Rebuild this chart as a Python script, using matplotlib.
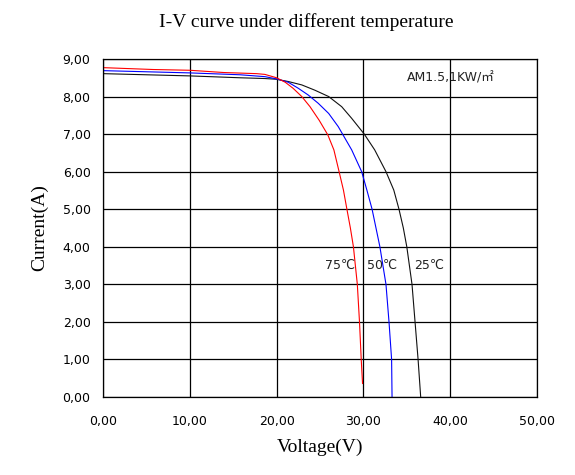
"""
I-V curves of a PV module at three cell temperatures (AM1.5, 1 kW/m2).
Values read off the reference chart.
"""

import matplotlib
matplotlib.use("Agg")
import matplotlib.pyplot as plt

# 75 C
v_75 = [0, 5.8, 10, 13.9, 17.7, 18.65, 20.0, 21.0, 21.9, 22.9, 23.85, 24.9,
        25.9, 26.6, 27.2, 27.7, 28.1, 28.5, 28.85, 29.3, 29.55, 29.75, 29.9]
i_75 = [8.77, 8.72, 8.70, 8.64, 8.61, 8.59, 8.50, 8.38, 8.22, 8.00, 7.73, 7.37,
        6.98, 6.58, 6.00, 5.51, 5.00, 4.50, 4.00, 3.00, 2.00, 1.00, 0.36]

# 50 C
v_50 = [0, 10, 15.8, 18.65, 20.0, 21.35, 22.5, 23.65, 24.8, 26.0, 27.1, 27.6,
        28.65, 29.8, 30.4, 31.0, 31.45, 31.9, 32.6, 32.95, 33.25, 33.3]
i_50 = [8.69, 8.63, 8.58, 8.53, 8.47, 8.38, 8.22, 8.04, 7.82, 7.55, 7.20, 7.00,
        6.58, 6.00, 5.51, 5.00, 4.50, 4.00, 3.00, 2.00, 1.00, 0.0]

# 25 C
v_25 = [0, 10, 15.8, 18.65, 20.0, 21.35, 22.9, 24.4, 26.0, 27.5, 28.65, 30.1,
        31.3, 32.6, 33.5, 34.1, 34.6, 35.0, 35.6, 35.95, 36.3, 36.6]
i_25 = [8.61, 8.55, 8.50, 8.48, 8.46, 8.40, 8.31, 8.17, 8.00, 7.73, 7.42, 7.00,
        6.58, 6.00, 5.51, 5.00, 4.50, 4.00, 3.00, 2.00, 1.00, 0.0]

x_ticks = [0, 10, 20, 30, 40, 50]
x_tick_labels = ["0,00", "10,00", "20,00", "30,00", "40,00", "50,00"]
y_ticks = [0, 1, 2, 3, 4, 5, 6, 7, 8, 9]
y_tick_labels = ["0,00", "1,00", "2,00", "3,00", "4,00", "5,00", "6,00",
                 "7,00", "8,00", "9,00"]

temp_labels = ["75\u2103", "50\u2103", "25\u2103"]
temp_label_x = [27.3, 32.1, 37.6]
temp_label_y = 3.5

serif = ["Liberation Serif", "DejaVu Serif"]
sans = ["DejaVu Sans", "Noto Sans CJK KR"]

fig = plt.figure(figsize=(5.75, 4.75), dpi=100)
ax = fig.add_axes([103 / 575, 1 - 397 / 475, 434 / 575, 338 / 475])

ax.plot(v_25, i_25, color="#111111", lw=0.8)
ax.plot(v_50, i_50, color="#0000ff", lw=0.8)
ax.plot(v_75, i_75, color="#ff0000", lw=0.8)

ax.set_xlim(0, 50)
ax.set_ylim(0, 9)
ax.set_xticks(x_ticks)
ax.set_xticklabels(x_tick_labels, family=sans, fontsize=9)
ax.set_yticks(y_ticks)
ax.set_yticklabels(y_tick_labels, family=sans, fontsize=9)
ax.tick_params(axis="both", length=0)
ax.tick_params(axis="x", pad=13)
ax.tick_params(axis="y", pad=9)
ax.grid(True, color="black", lw=0.9)
for sp in ax.spines.values():
    sp.set_linewidth(0.9)

for txt, xv in zip(temp_labels, temp_label_x):
    ax.text(xv, temp_label_y, txt, ha="center", va="center",
            family=sans, fontsize=9, color="#222222")

ax.text(40.1, 8.49, "AM1.5,1KW/\u33a1", ha="center", va="center",
        family=sans, fontsize=9, color="#222222")

fig.text(306 / 575, 1 - 22 / 475, "I-V curve under different temperature",
         ha="center", va="center", family=serif, fontsize=14)
ax.set_xlabel("Voltage(V)", family=serif, fontsize=14, labelpad=8)
ax.set_ylabel("Current(A)", family=serif, fontsize=14, labelpad=10)

fig.savefig("out.png", dpi=100)
